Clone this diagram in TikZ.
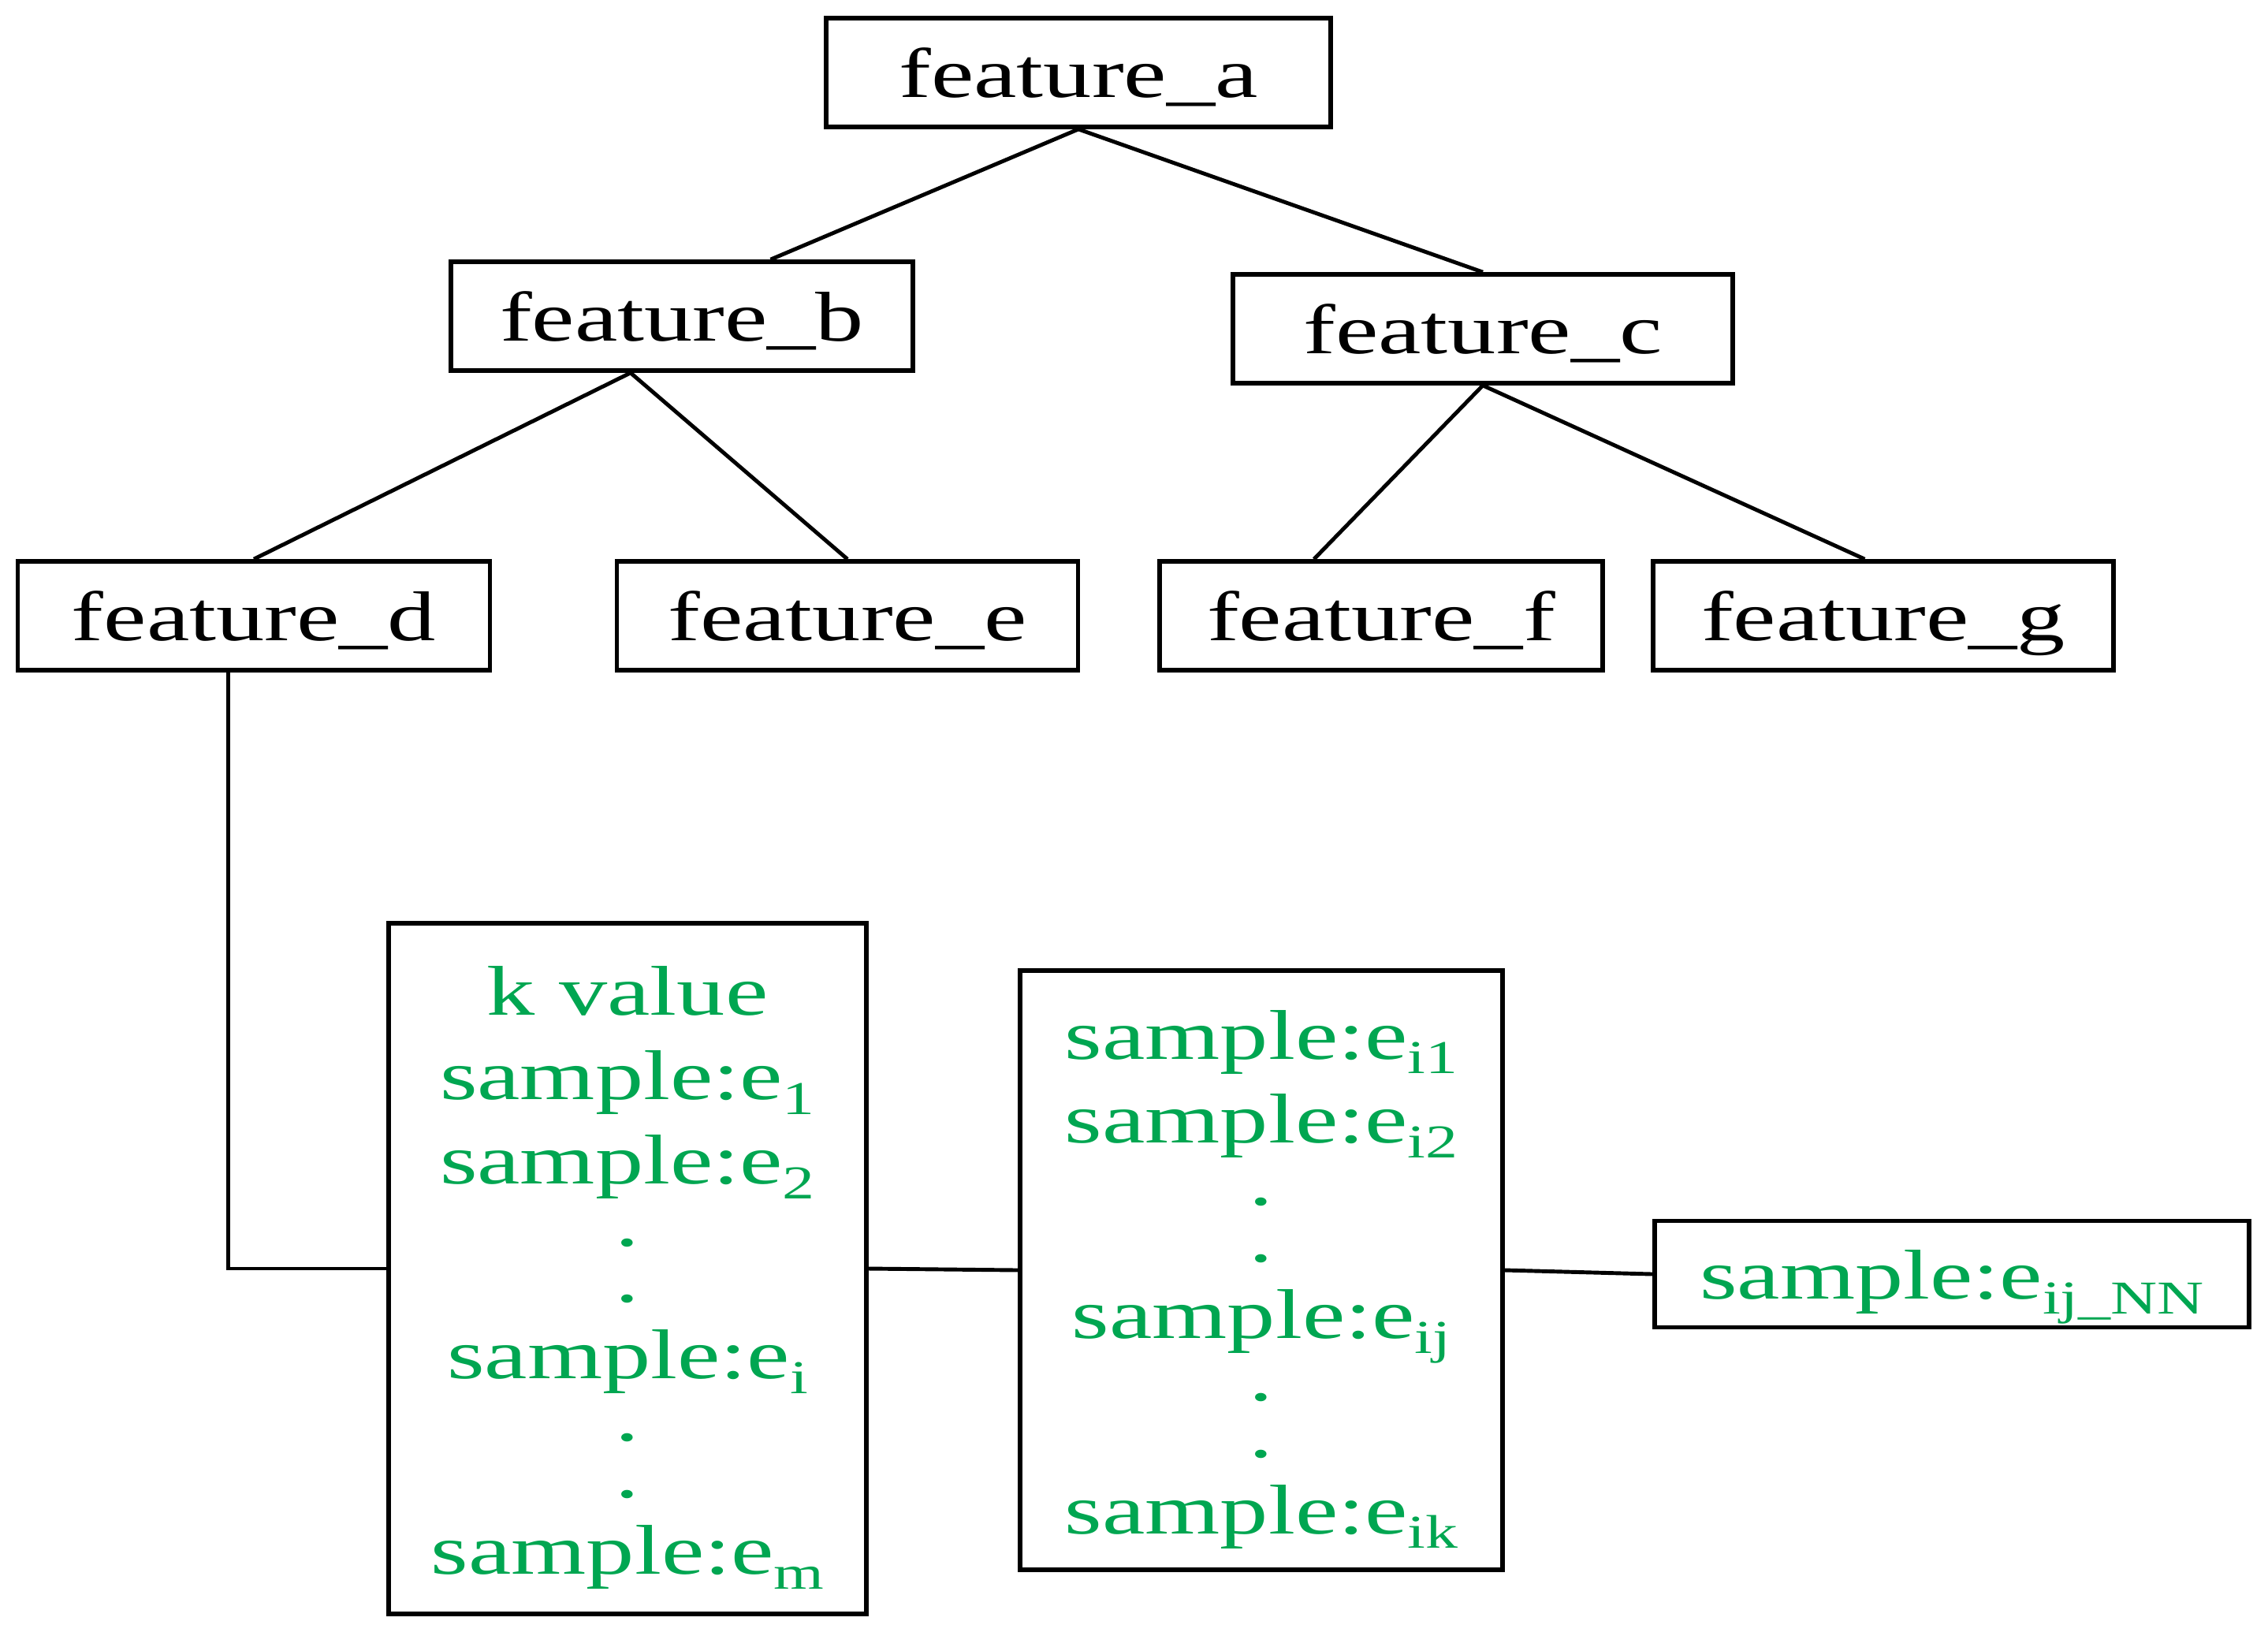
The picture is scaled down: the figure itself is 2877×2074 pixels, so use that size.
\documentclass[tikz,border=0pt]{standalone}
\usepackage{fontspec}
\setmainfont{Liberation Serif}[FakeStretch=1.37]
\usetikzlibrary{calc}
\definecolor{samplegreen}{RGB}{0,166,81}
\newcommand{\lowsub}[1]{\raisebox{-5.3pt}{\fontsize{17}{17}\selectfont #1}}
\tikzset{
  feature/.style={draw, line width=1.6pt, inner sep=2pt, minimum height=1.38cm,
    text height=23.6pt, text depth=5.7pt, font=\fontsize{25.4}{30.4}\selectfont},
  samplebox/.style={draw, line width=1.6pt, inner sep=2pt, align=center,
    text=samplegreen, font=\fontsize{25.4}{30.4}\selectfont},
  link/.style={line width=1.4pt}
}

\begin{document}
\begin{tikzpicture}[x=0.01cm, y=-0.01cm]
    \useasboundingbox (0,0) rectangle (2877,2074);
    % tree of features
    \node[feature, minimum width=6.40cm] (fa) at (1368,92) {feature\_a};
    \node[feature, minimum width=5.86cm] (fb) at (865,401) {feature\_b};
    \node[feature, minimum width=6.34cm] (fc) at (1881,417) {feature\_c};
    \node[feature, minimum width=5.99cm] (fd) at (322,781) {feature\_d};
    \node[feature, minimum width=5.85cm] (fe) at (1075,781) {feature\_e};
    \node[feature, minimum width=5.62cm] (ff) at (1752,781) {feature\_f};
    \node[feature, minimum width=5.84cm] (fg) at (2389,781) {feature\_g};
    % samples
    \node[samplebox, minimum width=6.06cm, minimum height=8.75cm] (kbox) at (796,1609) {\rule{0pt}{0.85cm}k value\\ sample:e\lowsub{1}\\ sample:e\lowsub{2}\\[-8pt] .\\[-10pt] .\\[-2.8pt] sample:e\lowsub{i}\\[-8pt] .\\[-10pt] .\\[-2.8pt] sample:e\lowsub{m}};
    \node[samplebox, minimum width=6.12cm, minimum height=7.59cm] (ebox) at (1600,1611) {\rule{0pt}{0.85cm}sample:e\lowsub{i1}\\ sample:e\lowsub{i2}\\[-8pt] .\\[-10pt] .\\[-2.8pt] sample:e\lowsub{ij}\\[-8pt] .\\[-10pt] .\\[-2.8pt] sample:e\lowsub{ik}};
    \node[samplebox, minimum width=7.54cm, minimum height=1.35cm, text height=23.6pt, text depth=5.7pt] (nnbox) at (2476,1616) {sample:e\lowsub{ij\_NN}};

    \draw[link] (fa.south) -- ($(fb.north west)!0.69!(fb.north east)$);
    \draw[link] (fa.south) -- (fc.north);
    \draw[link] ($(fb.south west)!0.39!(fb.south east)$) -- (fd.north);
    \draw[link] ($(fb.south west)!0.39!(fb.south east)$) -- (fe.north);
    \draw[link] (fc.south) -- ($(ff.north west)!0.35!(ff.north east)$);
    \draw[link] (fc.south) -- ($(fg.north west)!0.46!(fg.north east)$);
    \draw[link] ($(fd.south west)!0.447!(fd.south east)$) |- (kbox.west);
    \draw[link] (kbox.east) -- (ebox.west);
    \draw[link] (ebox.east) -- (nnbox.west);
\end{tikzpicture}
\end{document}
